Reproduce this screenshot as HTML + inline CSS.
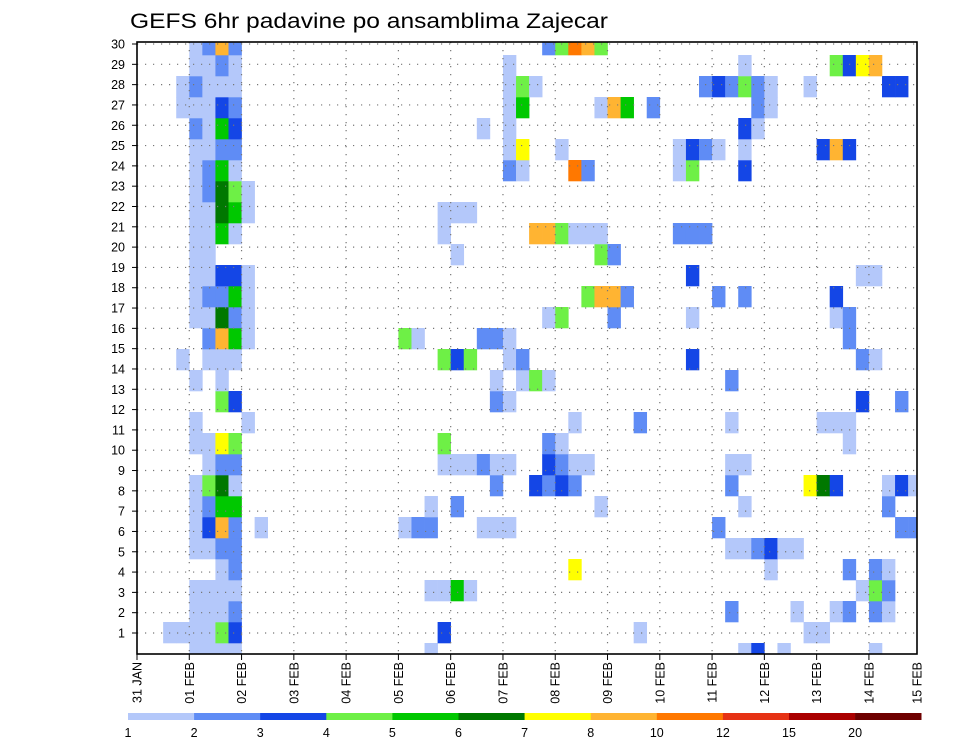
<!DOCTYPE html>
<html>
<head>
<meta charset="utf-8">
<style>
  html, body { margin: 0; padding: 0; background: #fff; }
  svg { display: block; font-family: "Liberation Sans", "DejaVu Sans", sans-serif; }
</style>
</head>
<body>
<svg id="chart" width="960" height="742" viewBox="0 0 960 742" xmlns="http://www.w3.org/2000/svg">
  <text x="130" y="28" font-size="21" textLength="478" lengthAdjust="spacingAndGlyphs" fill="#000">GEFS 6hr padavine po ansamblima Zajecar</text>
  <g id="cells"></g>
  <g id="grid"></g>
  <rect x="137" y="42" width="780" height="612" fill="none" stroke="#000" stroke-width="1.6"/>
  <g id="yaxis"></g>
  <g id="xaxis"></g>
  <g id="colorbar"></g>
</svg>
<script>
// ---- data ----
const dayLabels = ["31 JAN","01 FEB","02 FEB","03 FEB","04 FEB","05 FEB","06 FEB","07 FEB","08 FEB","09 FEB","10 FEB","11 FEB","12 FEB","13 FEB","14 FEB","15 FEB"];
const memberLabels = [1,2,3,4,5,6,7,8,9,10,11,12,13,14,15,16,17,18,19,20,21,22,23,24,25,26,27,28,29,30];
const levels = [1,2,3,4,5,6,7,8,10,12,15,20];
const levelColors = ["#b4c8fa","#5f8cf5","#1446e6","#6ef046","#00c800","#007800","#ffff00","#ffb432","#ff7800","#e63214","#aa0000","#6e0000"];
// precipitation (mm / 6h) per ensemble member: [6-hour step index, value]
const m30 = [[4,1.5],[5,2.5],[6,9],[7,2.5],[31,2.5],[32,4.5],[33,11],[34,9],[35,4.5]];
const m29 = [[4,1.5],[5,1.5],[6,2.5],[7,1.5],[28,1.5],[46,1.5],[53,4.5],[54,3.5],[55,7.5],[56,9]];
const m28 = [[3,1.5],[4,2.5],[5,1.5],[6,1.5],[7,1.5],[28,1.5],[29,4.5],[30,1.5],[43,2.5],[44,3.5],[45,2.5],[46,4.5],[47,2.5],[48,1.5],[51,1.5],[57,3.5],[58,3.5]];
const m27 = [[3,1.5],[4,1.5],[5,1.5],[6,3.5],[7,2.5],[28,1.5],[29,5.5],[35,1.5],[36,9],[37,5.5],[39,2.5],[47,2.5],[48,1.5]];
const m26 = [[4,2.5],[5,1.5],[6,5.5],[7,3.5],[26,1.5],[28,1.5],[46,3.5],[47,1.5]];
const m25 = [[4,1.5],[5,1.5],[6,2.5],[7,2.5],[28,1.5],[29,7.5],[32,1.5],[41,1.5],[42,3.5],[43,2.5],[44,1.5],[46,1.5],[52,3.5],[53,9],[54,3.5]];
const m24 = [[4,1.5],[5,2.5],[6,5.5],[7,1.5],[28,2.5],[29,1.5],[33,11],[34,2.5],[41,1.5],[42,4.5],[46,3.5]];
const m23 = [[4,1.5],[5,2.5],[6,6.5],[7,4.5],[8,1.5]];
const m22 = [[4,1.5],[5,1.5],[6,6.5],[7,5.5],[8,1.5],[23,1.5],[24,1.5],[25,1.5]];
const m21 = [[4,1.5],[5,1.5],[6,5.5],[7,1.5],[23,1.5],[30,9],[31,9],[32,4.5],[33,1.5],[34,1.5],[35,1.5],[41,2.5],[42,2.5],[43,2.5]];
const m20 = [[4,1.5],[5,1.5],[24,1.5],[35,4.5],[36,2.5]];
const m19 = [[4,1.5],[5,1.5],[6,3.5],[7,3.5],[8,1.5],[42,3.5],[55,1.5],[56,1.5]];
const m18 = [[4,1.5],[5,2.5],[6,2.5],[7,5.5],[8,1.5],[34,4.5],[35,9],[36,9],[37,2.5],[44,2.5],[46,2.5],[53,3.5]];
const m17 = [[4,1.5],[5,1.5],[6,6.5],[7,2.5],[8,1.5],[31,1.5],[32,4.5],[36,2.5],[42,1.5],[53,1.5],[54,2.5]];
const m16 = [[5,2.5],[6,9],[7,5.5],[8,1.5],[20,4.5],[21,1.5],[26,2.5],[27,2.5],[28,1.5],[54,2.5]];
const m15 = [[3,1.5],[5,1.5],[6,1.5],[7,1.5],[23,4.5],[24,3.5],[25,4.5],[28,1.5],[29,2.5],[42,3.5],[55,2.5],[56,1.5]];
const m14 = [[4,1.5],[6,1.5],[27,1.5],[29,1.5],[30,4.5],[31,1.5],[45,2.5]];
const m13 = [[6,4.5],[7,3.5],[27,2.5],[28,1.5],[55,3.5],[58,2.5]];
const m12 = [[4,1.5],[8,1.5],[33,1.5],[38,2.5],[45,1.5],[52,1.5],[53,1.5],[54,1.5]];
const m11 = [[4,1.5],[5,1.5],[6,7.5],[7,4.5],[23,4.5],[31,2.5],[32,1.5],[54,1.5]];
const m10 = [[5,1.5],[6,2.5],[7,2.5],[23,1.5],[24,1.5],[25,1.5],[26,2.5],[27,1.5],[28,1.5],[31,3.5],[32,2.5],[33,1.5],[34,1.5],[45,1.5],[46,1.5]];
const m9 = [[4,1.5],[5,4.5],[6,6.5],[7,1.5],[27,2.5],[30,3.5],[31,2.5],[32,3.5],[33,2.5],[45,2.5],[51,7.5],[52,6.5],[53,3.5],[57,1.5],[58,3.5],[59,1.5]];
const m8 = [[4,1.5],[5,2.5],[6,5.5],[7,5.5],[22,1.5],[24,2.5],[35,1.5],[46,1.5],[57,2.5]];
const m7 = [[4,1.5],[5,3.5],[6,9],[7,2.5],[9,1.5],[20,1.5],[21,2.5],[22,2.5],[26,1.5],[27,1.5],[28,1.5],[44,2.5],[58,2.5],[59,2.5]];
const m6 = [[4,1.5],[5,1.5],[6,2.5],[7,2.5],[45,1.5],[46,1.5],[47,2.5],[48,3.5],[49,1.5],[50,1.5]];
const m5 = [[6,1.5],[7,2.5],[33,7.5],[48,1.5],[54,2.5],[56,2.5],[57,1.5]];
const m4 = [[4,1.5],[5,1.5],[6,1.5],[7,1.5],[22,1.5],[23,1.5],[24,5.5],[25,1.5],[55,1.5],[56,4.5],[57,2.5]];
const m3 = [[4,1.5],[5,1.5],[6,1.5],[7,2.5],[45,2.5],[50,1.5],[53,1.5],[54,2.5],[56,2.5],[57,1.5]];
const m2 = [[2,1.5],[3,1.5],[4,1.5],[5,1.5],[6,4.5],[7,3.5],[23,3.5],[38,1.5],[51,1.5],[52,1.5]];
const m1 = [[4,1.5],[5,1.5],[6,1.5],[7,1.5],[22,1.5],[46,1.5],[47,3.5],[49,1.5],[56,1.5]];
const memberData = [m1,m2,m3,m4,m5,m6,m7,m8,m9,m10,m11,m12,m13,m14,m15,m16,m17,m18,m19,m20,m21,m22,m23,m24,m25,m26,m27,m28,m29,m30];

// ---- geometry / scales ----
const NS = "http://www.w3.org/2000/svg";
const plotL = 137, plotR = 917, plotT = 42, plotB = 654;
const dayW = 52.28, stepW = dayW / 4, bandH = 21;
function xDay(d) { return plotL + d * dayW; }
function xStep(s) { return plotL + s * stepW; }
function yLabel(m) { return 633 - (m - 1) * 20.31; }
function yBandTop(m) { return plotT - 8 + (30 - m) * bandH; }
function colorFor(v) {
  let idx = 0;
  for (let i = 0; i < levels.length; i++) { if (v >= levels[i]) idx = i; }
  return levelColors[idx];
}
function mk(tag, attrs) {
  const e = document.createElementNS(NS, tag);
  for (const k in attrs) e.setAttribute(k, attrs[k]);
  return e;
}

// ---- cells ----
const gCells = document.getElementById("cells");
memberData.forEach(function (rows, i) {
  const m = memberLabels[i];
  rows.forEach(function (pt) {
    const x0 = xStep(pt[0]), x1 = Math.min(xStep(pt[0] + 1), plotR);
    const y0 = Math.max(yBandTop(m), plotT), y1 = Math.min(yBandTop(m) + bandH, plotB);
    const r = mk("rect", { x: x0.toFixed(2), y: y0.toFixed(2), width: (x1 - x0 + 0.3).toFixed(2), height: (y1 - y0 + 0.3).toFixed(2), fill: colorFor(pt[1]) });
    
    
    gCells.appendChild(r);
  });
});

// ---- grid ----
const gGrid = document.getElementById("grid");
memberLabels.forEach(function (m) {
  const y = yLabel(m);
  const l = mk("line", { x1: plotL, x2: plotR, y1: y, y2: y, stroke: "#777", "stroke-width": 1.2, "stroke-dasharray": "1.2,6.8" });
  
  
  gGrid.appendChild(l);
});
for (let d = 1; d < 15; d++) {
  const x = xDay(d);
  const l = mk("line", { x1: x, x2: x, y1: plotT, y2: plotB, stroke: "#777", "stroke-width": 1.2, "stroke-dasharray": "1.2,6.8" });
  
  
  gGrid.appendChild(l);
}

// ---- y axis ----
const gY = document.getElementById("yaxis");
memberLabels.forEach(function (m) {
  const y = yLabel(m);
  const t = mk("line", { x1: plotL - 5, x2: plotL, y1: y, y2: y, stroke: "#000", "stroke-width": 1 });
  
  
  gY.appendChild(t);
  const tx = mk("text", { x: 125, y: y + 4.5, "font-size": 12.5, "text-anchor": "end", fill: "#000" });
  tx.textContent = String(m);
  
  
  gY.appendChild(tx);
});

// ---- x axis ----
const gX = document.getElementById("xaxis");
dayLabels.forEach(function (lab, d) {
  let x = xDay(d);
  if (x > plotR) x = plotR;
  if (d < 15) {
    const t = mk("line", { x1: x, x2: x, y1: plotB, y2: plotB + 6, stroke: "#000", "stroke-width": 1 });
    
    
    gX.appendChild(t);
  }
  const tx = mk("text", { x: 0, y: 0, "font-size": 12.5, "text-anchor": "end", fill: "#000", transform: "translate(" + (x + 4.5) + "," + (plotB + 8) + ") rotate(-90)" });
  tx.textContent = lab;
  
  
  gX.appendChild(tx);
});

// ---- colorbar ----
const gC = document.getElementById("colorbar");
const cbL = 128, cbW = 66.1, cbY = 713, cbH = 7;
levelColors.forEach(function (c, i) {
  const r = mk("rect", { x: cbL + i * cbW, y: cbY, width: cbW + 0.3, height: cbH, fill: c });
  
  
  gC.appendChild(r);
});
levels.forEach(function (lv, i) {
  const tx = mk("text", { x: cbL + i * cbW, y: 737, "font-size": 12.5, "text-anchor": "middle", fill: "#000" });
  tx.textContent = String(lv);
  
  
  gC.appendChild(tx);
});
</script>
</body>
</html>
